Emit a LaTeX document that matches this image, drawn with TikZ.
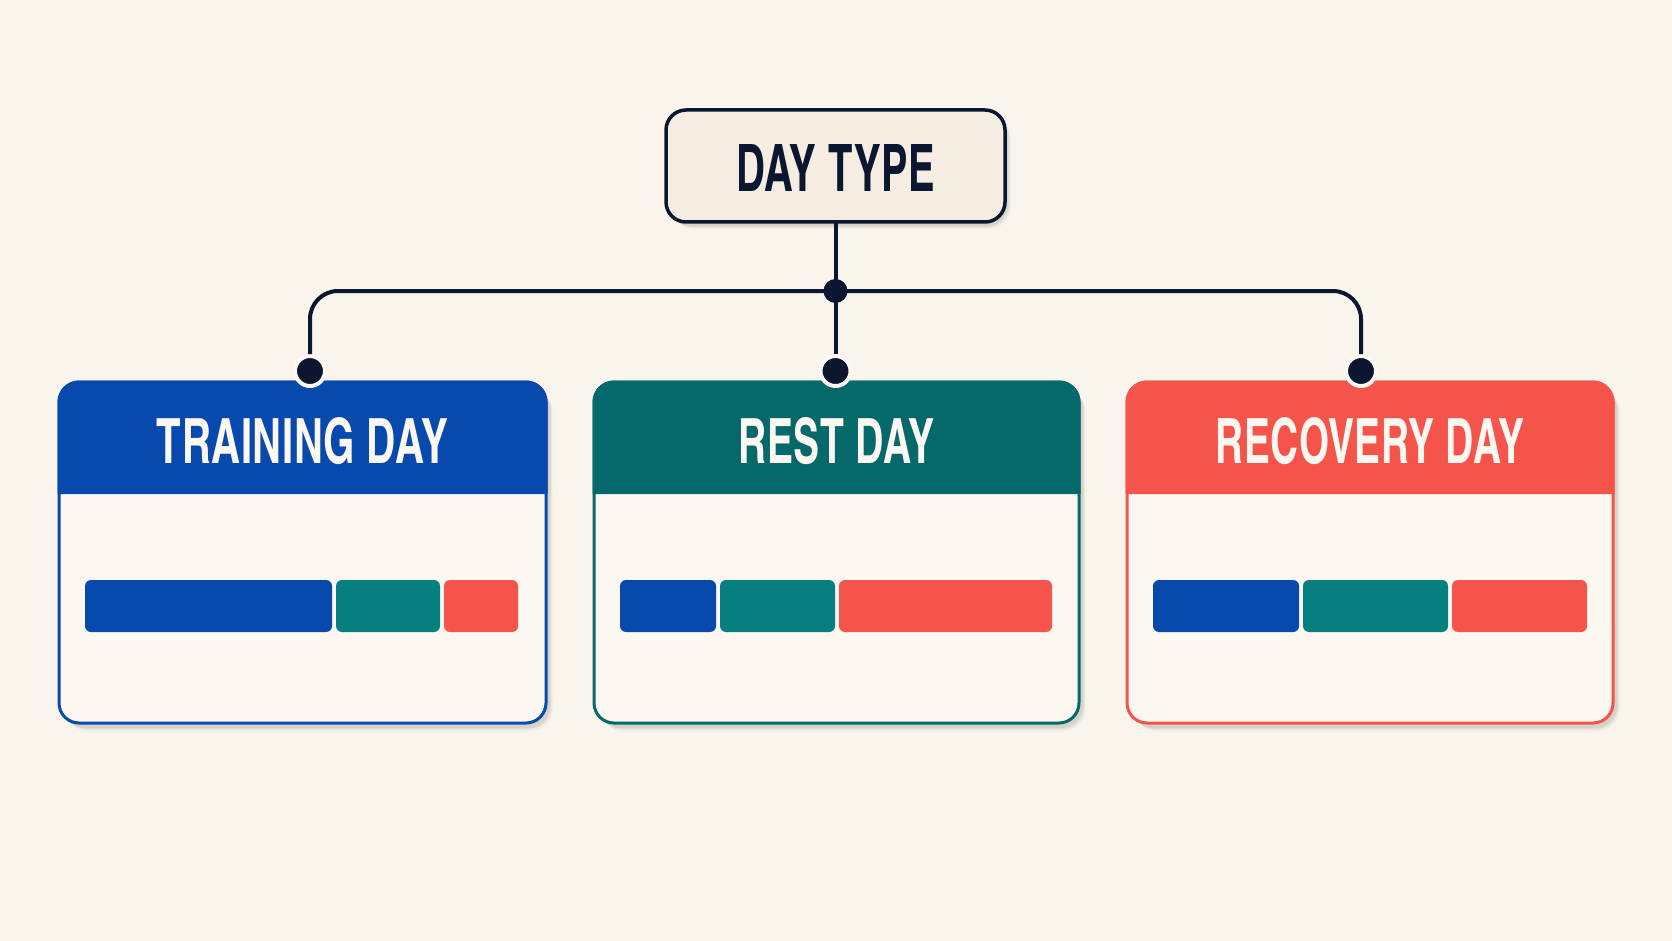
\documentclass[tikz,border=0pt]{standalone}
\usepackage{fontspec}
\newfontfamily\hfont[LetterSpace=1]{texgyreheroscn-bold.otf}
\usetikzlibrary{calc}
\definecolor{bg}{HTML}{FAF5EC}
\definecolor{cardbg}{HTML}{FCF8F1}
\definecolor{boxbg}{HTML}{F5EDE2}
\definecolor{navy}{HTML}{0B1730}
\definecolor{cblue}{HTML}{0849AD}
\definecolor{cteal}{HTML}{05696B}
\definecolor{bteal}{HTML}{077F80}
\definecolor{cred}{HTML}{F5544A}
\newcommand{\fitlabel}[3]{\resizebox{#1pt}{#2pt}{\hfont #3}}
\tikzset{
  conn/.style={navy, line width=4pt, rounded corners=28pt},
  dotnode/.style={circle, fill=navy, draw=cardbg, line width=4pt, minimum size=30pt, inner sep=0pt},
  jdot/.style={circle, fill=navy, minimum size=24pt, inner sep=0pt},
  barseg/.style={rounded corners=6pt},
  titletext/.style={inner sep=0pt, text=cardbg},
}
% #1 left, #2 right, #3 color, #4 name, #5 label width, #6 label
\newcommand{\card}[6]{%
  \foreach \k/\o in {1/0.05,2/0.04,3/0.03,4/0.02}{
    \fill[black, opacity=\o, rounded corners=22pt] (#1+3+\k, 382+4+\k) rectangle (#2+3+\k, 723+4+\k);
  }
  \draw[#3, line width=3pt, fill=cardbg, rounded corners=20pt] (#1,382) rectangle (#2,723);
  \fill[#3] (#1-1.5,494) {[rounded corners=21.5pt] -- (#1-1.5,380.5) -- (#2+1.5,380.5)} -- (#2+1.5,494) -- cycle;
  \node[titletext] (#4) at ({(#1+#2)/2}, 441.5) {\fitlabel{#5}{46}{#6}};
}
\begin{document}
\begin{tikzpicture}[x=1pt, y=-1pt]
\useasboundingbox (0,0) rectangle (1672,941);
\fill[bg] (0,0) rectangle (1672,941);

% top box
\foreach \k/\o in {1/0.05,2/0.04,3/0.03,4/0.02}{
  \fill[black, opacity=\o, rounded corners=22pt] (666+2+\k,110+3+\k) rectangle (1005+2+\k,222+3+\k);
}
\draw[navy, line width=3.5pt, fill=boxbg, rounded corners=20pt] (666,110) rectangle (1005,222);
\node[inner sep=0pt, text=navy] (dtype) at (835.5,168) {\fitlabel{199}{47}{DAY TYPE}};
\coordinate (dtb) at (835.5,222);

% cards
\card{59}{546}{cblue}{ttrain}{291}{TRAINING DAY}
\card{594}{1079}{cteal}{trest}{196}{REST DAY}
\card{1127}{1613}{cred}{trec}{309}{RECOVERY DAY}

% bars
\fill[cblue, barseg] (85,580) rectangle (332,632);
\fill[bteal, barseg] (336,580) rectangle (440,632);
\fill[cred, barseg] (444,580) rectangle (518,632);

\fill[cblue, barseg] (620,580) rectangle (716,632);
\fill[bteal, barseg] (720,580) rectangle (835,632);
\fill[cred, barseg] (839,580) rectangle (1052,632);

\fill[cblue, barseg] (1153,580) rectangle (1299,632);
\fill[bteal, barseg] (1303,580) rectangle (1448,632);
\fill[cred, barseg] (1452,580) rectangle (1587,632);

% connectors
\coordinate (jn) at (835.5,291);
\node[dotnode] (d1) at (310,371) {};
\node[dotnode] (d2) at (835.5,371) {};
\node[dotnode] (d3) at (1361,371) {};
\draw[conn] (dtb) -- (jn);
\draw[conn] (jn) -- (d2.north);
\draw[conn] (d1.north) |- (jn) -| (d3.north);
\node[jdot] (jd) at (jn) {};
\end{tikzpicture}
\end{document}
